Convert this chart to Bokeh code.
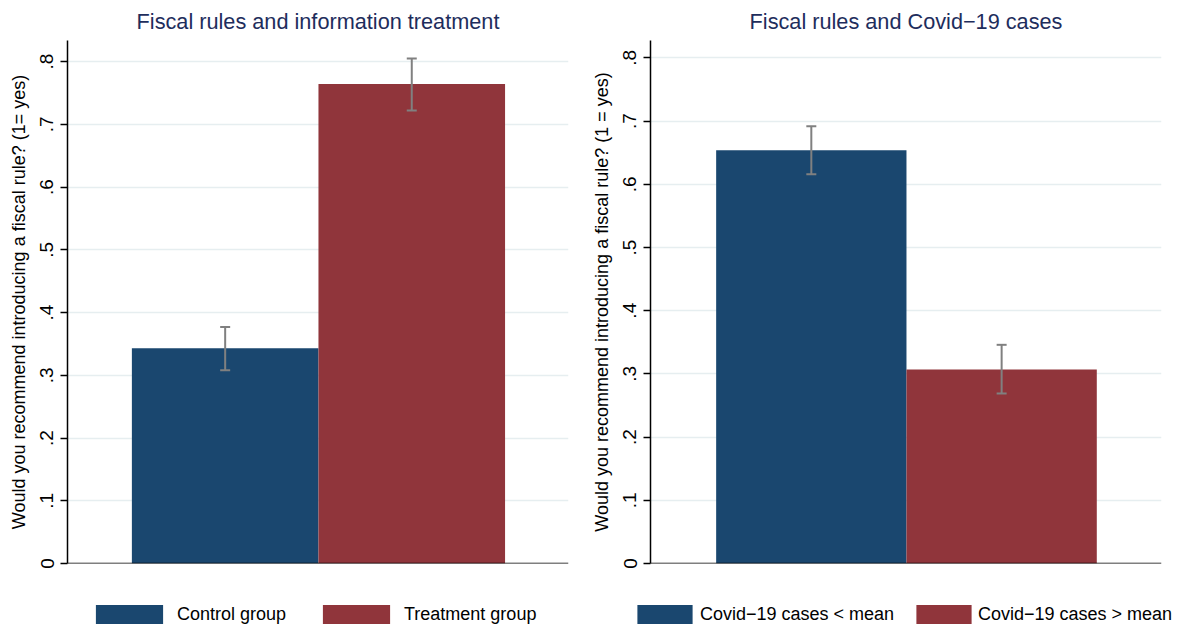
from bokeh.plotting import figure
from bokeh.models import (Range1d, FixedTicker, CustomJSTickFormatter, Whisker,
                          ColumnDataSource, Legend, LegendItem, TeeHead, Span)
from bokeh.layouts import row, column
from bokeh.embed import file_html
from bokeh.resources import INLINE

# ---- data ----
left_title = "Fiscal rules and information treatment"
left_categories = ["Control group", "Treatment group"]
left_means = [0.343, 0.764]
left_lower = [0.308, 0.722]
left_upper = [0.377, 0.805]
left_ylabel = "Would you recommend introducing a fiscal rule? (1= yes)"

right_title = "Fiscal rules and Covid\u221219 cases"
right_categories = ["Covid\u221219 cases < mean", "Covid\u221219 cases > mean"]
right_means = [0.654, 0.307]
right_lower = [0.616, 0.269]
right_upper = [0.692, 0.346]
right_ylabel = "Would you recommend introducing a fiscal rule? (1 = yes)"

y_ticks = [0, 0.1, 0.2, 0.3, 0.4, 0.5, 0.6, 0.7, 0.8]

BAR_COLORS = ["#1a476f", "#90353b"]
FONT = "Liberation Sans"
TITLE_COLOR = "#1e2d5c"
GRID_COLOR = "#e6eef0"
ERR_COLOR = "#808080"


def make_source(cats, means, lower, upper):
    return ColumnDataSource(dict(x=list(range(len(cats))), top=means,
                                 lower=lower, upper=upper, color=BAR_COLORS,
                                 cat=cats))


def make_panel(title, src, ylabel, ymax, frame_w, mb_left, mb_right):
    p = figure(frame_width=frame_w, frame_height=523, output_backend="svg",
               toolbar_location=None, x_range=Range1d(-0.845, 1.84),
               y_range=Range1d(0, ymax), min_border_left=mb_left,
               min_border_right=mb_right, min_border_top=39,
               min_border_bottom=10, x_axis_location=None)
    p.title.text = title
    p.title.align = "center"
    p.title.text_font = FONT
    p.title.text_font_size = "21.7px"
    p.title.text_font_style = "normal"
    p.title.text_color = TITLE_COLOR
    p.title.standoff = 13
    p.outline_line_color = None
    p.background_fill_color = "white"

    p.vbar(x="x", top="top", width=1.0, bottom=0, fill_color="color",
           line_color=None, source=src)
    w = Whisker(base="x", upper="upper", lower="lower", source=src,
                line_color=ERR_COLOR, line_width=2, level="overlay",
                upper_head=TeeHead(size=10, line_color=ERR_COLOR, line_width=2),
                lower_head=TeeHead(size=10, line_color=ERR_COLOR, line_width=2))
    p.add_layout(w)

    # y axis
    p.yaxis.ticker = FixedTicker(ticks=y_ticks)
    p.yaxis.formatter = CustomJSTickFormatter(
        code="return tick < 1e-9 ? '0' : tick.toFixed(1).replace(/^0/, '');")
    p.yaxis.major_label_orientation = "vertical"
    p.yaxis.major_label_text_font = FONT
    p.yaxis.major_label_text_font_size = "19px"
    p.yaxis.major_label_text_color = "black"
    p.yaxis.major_label_standoff = 7
    p.yaxis.major_tick_out = 7
    p.yaxis.major_tick_in = 0
    p.yaxis.minor_tick_line_color = None
    p.yaxis.axis_line_color = "black"
    p.yaxis.axis_line_width = 1.5
    p.yaxis.major_tick_line_color = "black"
    p.yaxis.major_tick_line_width = 1.5
    p.yaxis.axis_label = ylabel
    p.yaxis.axis_label_text_font = FONT
    p.yaxis.axis_label_text_font_size = "18px"
    p.yaxis.axis_label_text_font_style = "normal"
    p.yaxis.axis_label_text_color = "black"
    p.yaxis.axis_label_standoff = 9

    # baseline
    p.add_layout(Span(location=0, dimension="width", line_color="black",
                      line_width=1.5))

    p.xgrid.grid_line_color = None
    p.ygrid.ticker = FixedTicker(ticks=y_ticks[1:])
    p.ygrid.grid_line_color = GRID_COLOR
    p.ygrid.grid_line_width = 1.5
    return p


def make_legend_fig(src, cats, width, glyph_w, specs):
    lf = figure(width=width, height=56, output_backend="svg",
                toolbar_location=None, x_range=Range1d(0, 1),
                y_range=Range1d(10, 11), min_border=0,
                x_axis_location=None, y_axis_location=None)
    lf.outline_line_color = None
    lf.grid.grid_line_color = None
    r = lf.vbar(x="x", top="top", width=1.0, bottom=0, fill_color="color",
                line_color=None, source=src)
    for i, (c, (lx, standoff)) in enumerate(zip(cats, specs)):
        leg = Legend(items=[LegendItem(label=c, renderers=[r], index=i)],
                     orientation="horizontal", location=(lx, 3),
                     glyph_width=glyph_w, glyph_height=24,
                     label_standoff=standoff, padding=0, margin=0,
                     border_line_color=None, background_fill_alpha=0,
                     label_text_font=FONT, label_text_font_size="18px",
                     label_text_color="black", label_height=24)
        lf.add_layout(leg)
    return lf


src_l = make_source(left_categories, left_means, left_lower, left_upper)
src_r = make_source(right_categories, right_means, right_lower, right_upper)

p1 = make_panel(left_title, src_l, left_ylabel, 0.8335, 501, 67, 20)
p2 = make_panel(right_title, src_r, right_ylabel, 0.8275, 511, 60, 17)
l1 = make_legend_fig(src_l, left_categories, 588, 84, [(87, 6), (314, 6)])
l2 = make_legend_fig(src_r, right_categories, 588, 69, [(42, 1), (321, 0)])

layout = column(row(p1, p2), row(l1, l2))
open("out.html", "w").write(file_html(layout, INLINE))
